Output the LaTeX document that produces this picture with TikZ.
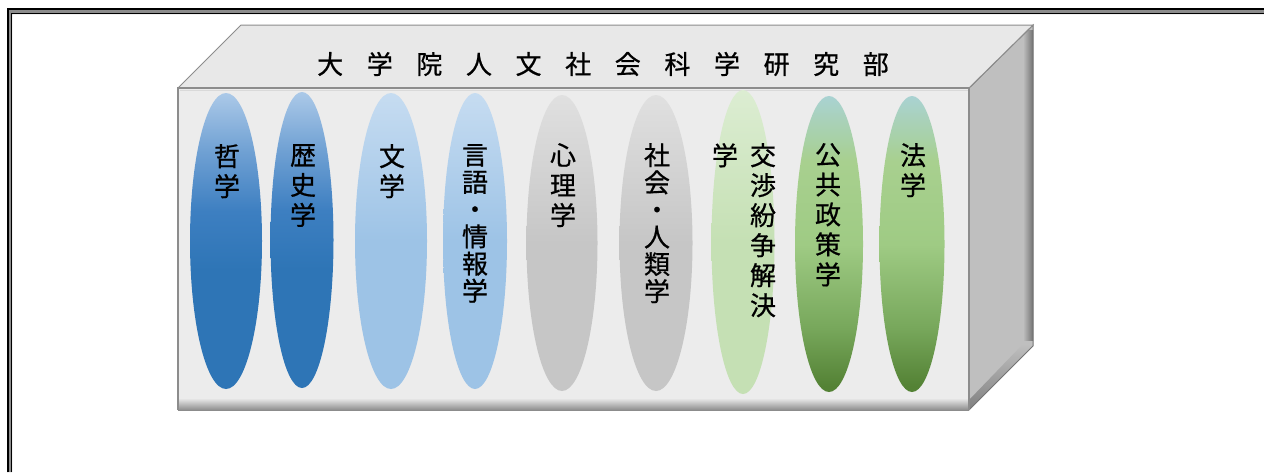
\documentclass[tikz,border=0pt]{standalone}
\usepackage{fontspec}
\setmainfont{Noto Sans CJK JP}[FakeBold=0.7]
\usetikzlibrary{shapes.geometric}
\definecolor{frontc}{HTML}{ECECEC}
\definecolor{topc}{HTML}{E8E8E8}
\definecolor{sidec}{HTML}{BFBFBF}
\definecolor{edgec}{HTML}{8C8C8C}
\definecolor{bdtop}{HTML}{ABC9E8}
\definecolor{bdq}{HTML}{6FA0D3}
\definecolor{bdmid}{HTML}{3D7FC1}
\definecolor{bdbot}{HTML}{2E75B6}
\definecolor{bltop}{HTML}{C6DCF1}
\definecolor{blbot}{HTML}{9DC3E6}
\definecolor{grtop}{HTML}{E0E0E0}
\definecolor{grbot}{HTML}{C6C6C6}
\definecolor{gltop}{HTML}{DCEDD2}
\definecolor{glbot}{HTML}{C5E0B4}
\definecolor{gdtop}{HTML}{A9D2D2}
\definecolor{gdq}{HTML}{A8D08F}
\definecolor{gdmid}{HTML}{9FCB84}
\definecolor{gdlow}{HTML}{78A85C}
\definecolor{gdbot}{HTML}{548235}
\pgfdeclareverticalshading{bdshade}{100bp}{color(0bp)=(bdbot); color(45bp)=(bdbot); color(55bp)=(bdmid); color(65bp)=(bdq); color(75bp)=(bdtop); color(100bp)=(bdtop)}
\pgfdeclareverticalshading{gdshade}{100bp}{color(0bp)=(gdbot); color(26bp)=(gdbot); color(36bp)=(gdlow); color(50bp)=(gdmid); color(64bp)=(gdq); color(75bp)=(gdtop); color(100bp)=(gdtop)}
\pgfdeclareverticalshading{blshade}{100bp}{color(0bp)=(blbot); color(50bp)=(blbot); color(75bp)=(bltop); color(100bp)=(bltop)}
\pgfdeclareverticalshading{grshade}{100bp}{color(0bp)=(grbot); color(50bp)=(grbot); color(75bp)=(grtop); color(100bp)=(grtop)}
\pgfdeclareverticalshading{glshade}{100bp}{color(0bp)=(glbot); color(50bp)=(glbot); color(75bp)=(gltop); color(100bp)=(gltop)}
\begin{document}
\begin{tikzpicture}[x=1pt,y=-1pt,
  pill/.style={ellipse,draw=none,inner sep=0pt,minimum height=296pt},
  bluedark/.style={pill,shading=bdshade},
  bluelight/.style={pill,shading=blshade},
  graypill/.style={pill,shading=grshade},
  greenlight/.style={pill,shading=glshade},
  greendark/.style={pill,shading=gdshade},
  coltext/.style={anchor=north,inner sep=0pt,align=center,font=\fontsize{26}{30}\selectfont},
  coltight/.style={coltext,font=\fontsize{26}{27.2}\selectfont},
  titletext/.style={inner sep=0pt,font=\fontsize{26}{30}\selectfont}]
\useasboundingbox (0,0) rectangle (1264,472);
% outer frame (double line)
\fill[black!45] (7,472) -- (7,8) -- (1264,8) -- (1264,14) -- (12,14) -- (12,472) -- cycle;
\draw[black,line width=2.5pt] (8.2,472) -- (8.2,9.2) -- (1264,9.2);
\draw[black,line width=1pt] (11.8,472) -- (11.8,13.6) -- (1264,13.6);
% box corners
\coordinate (ftl) at (178,88);
\coordinate (ftr) at (969,88);
\coordinate (fbr) at (969,410);
\coordinate (fbl) at (178,410);
\coordinate (btl) at (241,25);
\coordinate (btr) at (1033,25);
\coordinate (bbr) at (1033,346);
% right side
\fill[sidec] (ftr) -- (btr) -- (bbr) -- (fbr) -- cycle;
\shade[left color=sidec,right color=black!55] (1023,30) rectangle (1033,340);
\shade[top color=sidec,bottom color=black!50] (969,400) -- (1023,344) -- (1033,346) -- (969,410) -- cycle;
\draw[black!55,line width=1pt] (ftr) -- (btr) -- (bbr) -- (fbr);
% top face
\fill[topc] (ftl) -- (btl) -- (btr) -- (ftr) -- cycle;
\draw[edgec,line width=1pt] (ftl) -- (btl) -- (btr) -- (ftr);
% front face
\fill[frontc] (ftl) rectangle (fbr);
\shade[top color=frontc,bottom color=black!45] (178,398) rectangle (969,410);
\draw[edgec,line width=1.6pt] (fbl) -- (ftl) -- (ftr) -- (fbr);
\draw[white!85!black,line width=0.6pt] (179.5,90.5) -- (967.5,90.5);
% title
\node[titletext] (title) at (603,64) {大\hskip23.6pt 学\hskip23.6pt 院\hskip23.6pt 人\hskip23.6pt 文\hskip23.6pt 社\hskip23.6pt 会\hskip23.6pt 科\hskip23.6pt 学\hskip23.6pt 研\hskip23.6pt 究\hskip23.6pt 部};
% pills
\node[bluedark,minimum width=72pt] (e1) at (226,241) {};
\node[bluedark,minimum width=63pt] (e2) at (302,240) {};
\node[bluelight,minimum width=72pt] (e3) at (391,241) {};
\node[bluelight,minimum width=64pt] (e4) at (475,241) {};
\node[graypill,minimum width=71pt] (e5) at (562,243) {};
\node[graypill,minimum width=73pt] (e6) at (656,243) {};
\node[greenlight,minimum width=63pt,minimum height=304pt] (e7) at (743,242) {};
\node[greendark,minimum width=68pt] (e8) at (829,244) {};
\node[greendark,minimum width=65pt] (e9) at (912,244) {};
% labels
\node[coltext] (t1) at (227,144) {哲\\学};
\node[coltext] (t2) at (303,144) {歴\\史\\学};
\node[coltext] (t3) at (392,144) {文\\学};
\node[coltight] (t4) at (475,144) {言\\語\\・\\情\\報\\学};
\node[coltext] (t5) at (563,143) {心\\理\\学};
\node[coltight] (t6) at (657,143) {社\\会\\・\\人\\類\\学};
\node[coltext] (t7a) at (763,143) {交\\渉\\紛\\争\\解\\決};
\node[coltext] (t7b) at (725,143) {学};
\node[coltext] (t8) at (828,143) {公\\共\\政\\策\\学};
\node[coltext] (t9) at (913,143) {法\\学};
\end{tikzpicture}
\end{document}
